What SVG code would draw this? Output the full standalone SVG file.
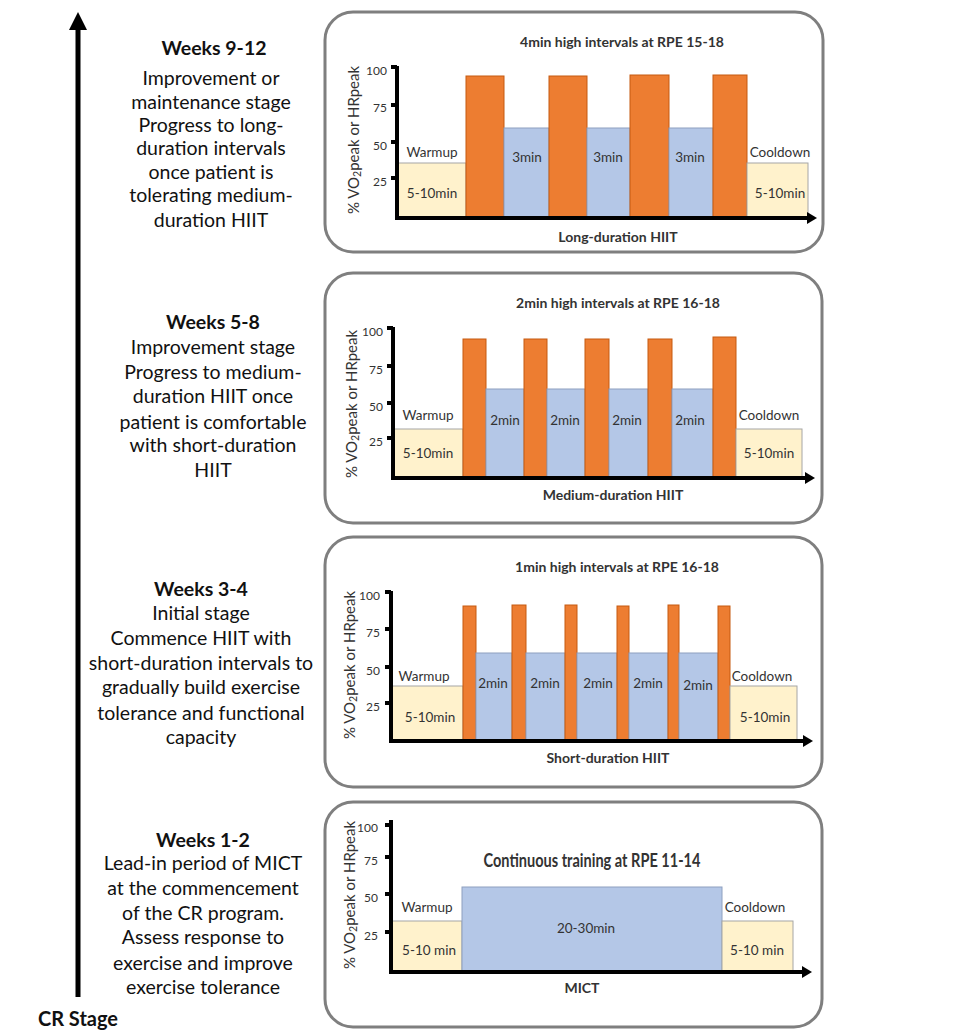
<svg xmlns="http://www.w3.org/2000/svg" width="957" height="1034" viewBox="0 0 957 1034">
<defs>
<style>
.panel{fill:#fff;stroke:#7f7f7f;stroke-width:3}
.axis{stroke:#000;stroke-width:4;fill:none;marker-end:url(#ah)}
.tick{fill:#000}
.wu{fill:#fff2cc;stroke:#a6a6a6;stroke-width:1}
.hi{fill:#ed7d31;stroke:#c55a11;stroke-width:1}
.lo{fill:#b4c7e7;stroke:#8ea0bf;stroke-width:1}
.t{font-family:Lato,"Liberation Sans",sans-serif;fill:#333;font-size:13.5px;text-anchor:middle}
.tl{font-family:Lato,"Liberation Sans",sans-serif;fill:#333;font-size:12px;text-anchor:end}
.tt{font-family:Lato,"Liberation Sans",sans-serif;fill:#333;font-size:14px;font-weight:bold;text-anchor:middle}
.yl{font-family:Lato,"Liberation Sans",sans-serif;fill:#333;font-size:15px;text-anchor:middle}
.desc{font-family:Lato,"Liberation Sans",sans-serif;fill:#111;font-size:19.5px;text-anchor:middle}
.desc .b{font-weight:bold}
</style>
<marker id="ah" markerWidth="10" markerHeight="12" refX="0" refY="6" orient="auto" markerUnits="userSpaceOnUse"><path d="M0,0 L10,6 L0,12 z" fill="#000"/></marker>
</defs>
<rect width="957" height="1034" fill="#fff"/>

<g id="connectors">
<line x1="78" y1="28" x2="78" y2="997" stroke="#000" stroke-width="5"/>
<polygon points="78,12 69,30 87,30" fill="#000"/>
</g>

<g id="cr-stage">
<text x="78" y="1026" style="font-family:Lato,'Liberation Sans',sans-serif;font-size:20px;font-weight:bold;fill:#111;text-anchor:middle">CR Stage</text>
</g>

<g id="desc-9-12">
<text class="desc"><tspan class="b" x="214" y="55">Weeks 9-12</tspan><tspan x="211" y="85">Improvement or</tspan><tspan x="211" y="109">maintenance stage</tspan><tspan x="211" y="132">Progress to long-</tspan><tspan x="211" y="155">duration intervals</tspan><tspan x="211" y="179">once patient is</tspan><tspan x="211" y="202">tolerating medium-</tspan><tspan x="211" y="227">duration HIIT</tspan></text>
</g>
<g id="desc-5-8">
<text class="desc"><tspan class="b" x="213" y="329">Weeks 5-8</tspan><tspan x="213" y="354">Improvement stage</tspan><tspan x="213" y="379">Progress to medium-</tspan><tspan x="213" y="403">duration HIIT once</tspan><tspan x="213" y="429">patient is comfortable</tspan><tspan x="213" y="452">with short-duration</tspan><tspan x="213" y="477">HIIT</tspan></text>
</g>
<g id="desc-3-4">
<text class="desc"><tspan class="b" x="201" y="596">Weeks 3-4</tspan><tspan x="201" y="620">Initial stage</tspan><tspan x="201" y="645">Commence HIIT with</tspan><tspan x="201" y="670">short-duration intervals to</tspan><tspan x="201" y="694">gradually build exercise</tspan><tspan x="201" y="720">tolerance and functional</tspan><tspan x="201" y="744">capacity</tspan></text>
</g>
<g id="desc-1-2">
<text class="desc"><tspan class="b" x="203" y="847">Weeks 1-2</tspan><tspan x="203" y="870">Lead-in period of MICT</tspan><tspan x="203" y="895">at the commencement</tspan><tspan x="203" y="920">of the CR program.</tspan><tspan x="203" y="944">Assess response to</tspan><tspan x="203" y="970">exercise and improve</tspan><tspan x="203" y="994">exercise tolerance</tspan></text>
</g>

<g id="panel-long">
<rect class="panel" x="325" y="12" width="498" height="240" rx="28"/>
<text class="tt" x="622" y="47">4min high intervals at RPE 15-18</text>
<rect class="wu" x="397" y="163" width="69" height="55"/>
<rect class="hi" x="466" y="76" width="38" height="142"/>
<rect class="lo" x="504" y="128" width="45" height="90"/>
<rect class="hi" x="549" y="76" width="38" height="142"/>
<rect class="lo" x="587" y="128" width="43" height="90"/>
<rect class="hi" x="630" y="75" width="39" height="143"/>
<rect class="lo" x="669" y="128" width="44" height="90"/>
<rect class="hi" x="713" y="75" width="34" height="143"/>
<rect class="wu" x="747" y="163" width="61" height="55"/>
<path class="axis" d="M397,66 V218 H807"/>
<rect class="tick" x="391" y="65" width="6" height="4"/>
<rect class="tick" x="391" y="103" width="6" height="4"/>
<rect class="tick" x="391" y="140" width="6" height="4"/>
<rect class="tick" x="391" y="176" width="6" height="4"/>
<text class="tl" x="387" y="75">100</text>
<text class="tl" x="387" y="112">75</text>
<text class="tl" x="387" y="150">50</text>
<text class="tl" x="387" y="186">25</text>
<text class="yl" transform="translate(359,140) rotate(-90)">% VO<tspan font-size="10.5" dy="2">2</tspan><tspan dy="-2">peak or HRpeak</tspan></text>
<text class="t" x="432" y="157">Warmup</text>
<text class="t" x="432" y="198">5-10min</text>
<text class="t" x="527" y="162">3min</text>
<text class="t" x="608" y="162">3min</text>
<text class="t" x="690" y="162">3min</text>
<text class="t" x="780" y="157">Cooldown</text>
<text class="t" x="780" y="198">5-10min</text>
<text class="tt" x="618" y="242">Long-duration HIIT</text>
</g>

<g id="panel-medium">
<rect class="panel" x="325" y="273" width="497" height="250" rx="28"/>
<text class="tt" x="618" y="308">2min high intervals at RPE 16-18</text>
<rect class="wu" x="393" y="429" width="70" height="49"/>
<rect class="hi" x="463" y="339" width="23" height="139"/>
<rect class="lo" x="486" y="389" width="38" height="89"/>
<rect class="hi" x="524" y="339" width="23" height="139"/>
<rect class="lo" x="547" y="389" width="38" height="89"/>
<rect class="hi" x="585" y="339" width="24" height="139"/>
<rect class="lo" x="609" y="389" width="39" height="89"/>
<rect class="hi" x="648" y="339" width="24" height="139"/>
<rect class="lo" x="672" y="389" width="41" height="89"/>
<rect class="hi" x="713" y="337" width="23" height="141"/>
<rect class="wu" x="736" y="429" width="66" height="49"/>
<path class="axis" d="M393,327 V478 H805"/>
<rect class="tick" x="387" y="326" width="6" height="4"/>
<rect class="tick" x="387" y="364" width="6" height="4"/>
<rect class="tick" x="387" y="401" width="6" height="4"/>
<rect class="tick" x="387" y="436" width="6" height="4"/>
<text class="tl" x="383" y="336">100</text>
<text class="tl" x="383" y="374">75</text>
<text class="tl" x="383" y="411">50</text>
<text class="tl" x="383" y="446">25</text>
<text class="yl" transform="translate(357,404) rotate(-90)">% VO<tspan font-size="10.5" dy="2">2</tspan><tspan dy="-2">peak or HRpeak</tspan></text>
<text class="t" x="428" y="420">Warmup</text>
<text class="t" x="428" y="458">5-10min</text>
<text class="t" x="505" y="425">2min</text>
<text class="t" x="565" y="425">2min</text>
<text class="t" x="627" y="425">2min</text>
<text class="t" x="690" y="425">2min</text>
<text class="t" x="769" y="420">Cooldown</text>
<text class="t" x="769" y="458">5-10min</text>
<text class="tt" x="613" y="500">Medium-duration HIIT</text>
</g>

<g id="panel-short">
<rect class="panel" x="325" y="537" width="497" height="250" rx="28"/>
<text class="tt" x="617" y="572">1min high intervals at RPE 16-18</text>
<rect class="wu" x="391" y="686" width="72" height="55"/>
<rect class="hi" x="463" y="606" width="13" height="135"/>
<rect class="lo" x="476" y="653" width="36" height="88"/>
<rect class="hi" x="512" y="605" width="14" height="136"/>
<rect class="lo" x="526" y="653" width="39" height="88"/>
<rect class="hi" x="565" y="605" width="12" height="136"/>
<rect class="lo" x="577" y="653" width="40" height="88"/>
<rect class="hi" x="617" y="606" width="12" height="135"/>
<rect class="lo" x="629" y="653" width="39" height="88"/>
<rect class="hi" x="668" y="605" width="11" height="136"/>
<rect class="lo" x="679" y="653" width="39" height="88"/>
<rect class="hi" x="718" y="606" width="12" height="135"/>
<rect class="wu" x="730" y="686" width="67" height="55"/>
<path class="axis" d="M391,591 V741 H803"/>
<rect class="tick" x="385" y="590" width="6" height="4"/>
<rect class="tick" x="385" y="627" width="6" height="4"/>
<rect class="tick" x="385" y="665" width="6" height="4"/>
<rect class="tick" x="385" y="701" width="6" height="4"/>
<text class="tl" x="380" y="600">100</text>
<text class="tl" x="380" y="637">75</text>
<text class="tl" x="380" y="675">50</text>
<text class="tl" x="380" y="711">25</text>
<text class="yl" transform="translate(355,665) rotate(-90)">% VO<tspan font-size="10.5" dy="2">2</tspan><tspan dy="-2">peak or HRpeak</tspan></text>
<text class="t" x="424" y="681">Warmup</text>
<text class="t" x="430" y="722">5-10min</text>
<text class="t" x="493" y="688">2min</text>
<text class="t" x="545" y="688">2min</text>
<text class="t" x="598" y="688">2min</text>
<text class="t" x="648" y="688">2min</text>
<text class="t" x="698" y="690">2min</text>
<text class="t" x="762" y="681">Cooldown</text>
<text class="t" x="765" y="722">5-10min</text>
<text class="tt" x="608" y="763">Short-duration HIIT</text>
</g>

<g id="panel-mict">
<rect class="panel" x="325" y="802" width="497" height="225" rx="28"/>
<rect class="wu" x="391" y="921" width="71" height="51"/>
<rect class="lo" x="462" y="887" width="260" height="85"/>
<rect class="wu" x="722" y="921" width="71" height="51"/>
<path class="axis" d="M391,820 V972 H802"/>
<rect class="tick" x="385" y="823" width="6" height="4"/>
<rect class="tick" x="385" y="855" width="6" height="4"/>
<rect class="tick" x="385" y="892" width="6" height="4"/>
<rect class="tick" x="385" y="930" width="6" height="4"/>
<text class="tl" x="378" y="832">100</text>
<text class="tl" x="378" y="865">75</text>
<text class="tl" x="378" y="902">50</text>
<text class="tl" x="378" y="940">25</text>
<text class="yl" transform="translate(355,895) rotate(-90)">% VO<tspan font-size="10.5" dy="2">2</tspan><tspan dy="-2">peak or HRpeak</tspan></text>
<text class="tt" x="592" y="867" style="font-size:18px" textLength="217" lengthAdjust="spacingAndGlyphs">Continuous training at RPE 11-14</text>
<text class="t" x="427" y="912">Warmup</text>
<text class="t" x="429" y="955">5-10 min</text>
<text class="t" x="586" y="933">20-30min</text>
<text class="t" x="755" y="912">Cooldown</text>
<text class="t" x="757" y="955">5-10 min</text>
<text class="tt" x="582" y="993">MICT</text>
</g>
</svg>
